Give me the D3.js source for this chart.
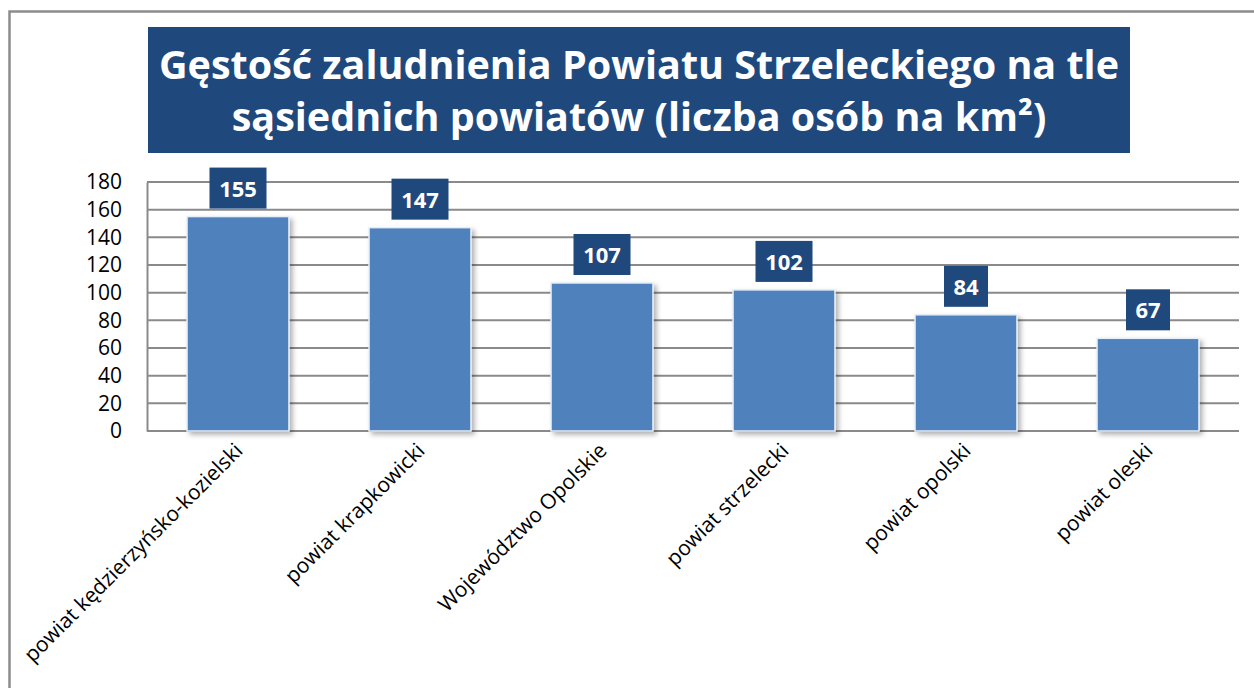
<!DOCTYPE html>
<html>
  <head>
    <meta charset="utf-8" />
    <script src="https://d3js.org/d3.v7.min.js"></script>
    <style>
      body { margin: 0; background: #fff; }
      svg { display: block; }
    </style>
  </head>
  <body>
    <svg width="1254" height="688"></svg>
    <script>
      // data
      var categories = [
        "powiat kędzierzyńsko-kozielski",
        "powiat krapkowicki",
        "Województwo Opolskie",
        "powiat strzelecki",
        "powiat opolski",
        "powiat oleski"
      ];
      var values = [155, 147, 107, 102, 84, 67];
      var yTicks = [0, 20, 40, 60, 80, 100, 120, 140, 160, 180];
      var titleLines = [
        "Gęstość zaludnienia Powiatu Strzeleckiego na tle",
        "sąsiednich powiatów (liczba osób na km²)"
      ];

      var svg = d3.select("svg");
      var font = "'Open Sans', 'Noto Sans', sans-serif";

      var plotLeft = 147, plotRight = 1239, plotTop = 182, plotBottom = 431;

      var x = d3.scaleBand().domain(categories).range([plotLeft, plotRight]).paddingInner(0.44).paddingOuter(0.22);
      var y = d3.scaleLinear().domain([0, 180]).range([plotBottom, plotTop]);

      // shadow filter for bars
      var defs = svg.append("defs");
      var f = defs.append("filter").attr("id", "shadow")
        .attr("x", "-10%").attr("y", "-10%").attr("width", "130%").attr("height", "130%");
      f.append("feDropShadow")
        .attr("dx", 3).attr("dy", 3).attr("stdDeviation", 2.5)
        .attr("flood-color", "#000").attr("flood-opacity", 0.3);

      // outer frame
      svg.append("rect")
        .attr("x", 9.5).attr("y", 11.5)
        .attr("width", 1400).attr("height", 900)
        .attr("fill", "none")
        .attr("stroke", "#8c8c8c")
        .attr("stroke-width", 2.5);

      // title box
      svg.append("rect")
        .attr("x", 148).attr("y", 27)
        .attr("width", 982).attr("height", 126)
        .attr("fill", "#1f497d");

      svg.selectAll(".title")
        .data(titleLines)
        .enter()
        .append("text")
        .attr("class", "title")
        .attr("x", 639)
        .attr("y", function (d, i) { return 79 + i * 52; })
        .attr("text-anchor", "middle")
        .style("font-family", font)
        .style("font-weight", "bold")
        .style("font-size", "39.5px")
        .style("fill", "#fff")
        .text(function (d) { return d; });

      // gridlines
      svg.append("g")
        .selectAll("line")
        .data(yTicks)
        .enter()
        .append("line")
        .attr("x1", plotLeft).attr("x2", plotRight)
        .attr("y1", function (d) { return y(d); })
        .attr("y2", function (d) { return y(d); })
        .attr("stroke", "#8a8a8a")
        .attr("stroke-width", 2);

      // y axis
      var yAxis = svg.append("g")
        .attr("transform", "translate(" + plotLeft + ",0)")
        .call(d3.axisLeft(y).tickValues(yTicks).tickSize(0).tickPadding(25));
      yAxis.select(".domain").attr("stroke", "#8a8a8a").attr("stroke-width", 2);
      yAxis.selectAll("text")
        .style("font-family", font)
        .style("font-size", "21px")
        .style("fill", "#000");

      // bars
      svg.append("g")
        .selectAll("rect")
        .data(values)
        .enter()
        .append("rect")
        .attr("x", function (d, i) { return x(categories[i]); })
        .attr("y", function (d) { return y(d); })
        .attr("width", x.bandwidth())
        .attr("height", function (d) { return y(0) - y(d); })
        .attr("fill", "#4f81bd")
        .attr("stroke", "#e6eef8")
        .attr("stroke-width", 1.5)
        .attr("filter", "url(#shadow)");

      // value labels
      var lab = svg.append("g")
        .selectAll("g")
        .data(values)
        .enter()
        .append("g")
        .attr("transform", function (d, i) {
          return "translate(" + (x(categories[i]) + x.bandwidth() / 2) + "," + (y(d) - 8) + ")";
        });
      lab.append("rect")
        .attr("x", function (d) { return String(d).length > 2 ? -28.5 : -22; })
        .attr("y", -41)
        .attr("width", function (d) { return String(d).length > 2 ? 57 : 44; })
        .attr("height", 41)
        .attr("fill", "#1f497d");
      lab.append("text")
        .attr("y", -12)
        .attr("text-anchor", "middle")
        .style("font-family", font)
        .style("font-weight", "bold")
        .style("font-size", "22px")
        .style("fill", "#fff")
        .text(function (d) { return d; });

      // x labels, rotated
      svg.append("g")
        .selectAll("text")
        .data(categories)
        .enter()
        .append("text")
        .attr("transform", function (d) {
          return "translate(" + (x(d) + x.bandwidth() / 2 + 6) + "," + 452 + ") rotate(-45)";
        })
        .attr("text-anchor", "end")
        .style("font-family", font)
        .style("font-size", "21px")
        .style("fill", "#000")
        .text(function (d) { return d; });
    </script>
  </body>
</html>
